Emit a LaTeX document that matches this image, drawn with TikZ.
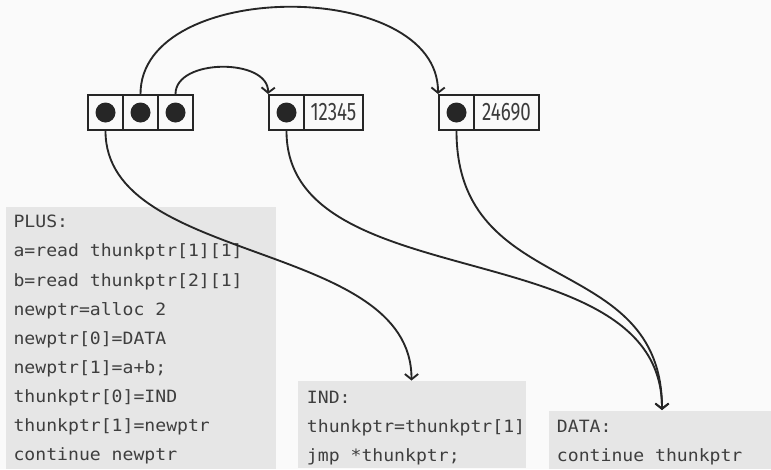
\documentclass[tikz,border=0pt]{standalone}
\usepackage{fontspec}
\usetikzlibrary{arrows.meta}
\newfontfamily\codefont[FakeStretch=1.07]{DejaVu Sans Mono}
\newfontfamily\numfont[FakeStretch=0.74]{Fira Sans}
\definecolor{bg}{HTML}{FAFAFA}
\definecolor{boxgray}{HTML}{E6E6E6}
\definecolor{ink}{HTML}{262626}
\definecolor{codeink}{HTML}{3E3E3E}
\begin{document}
\begin{tikzpicture}[x=0.75pt,y=-0.75pt,
  cell/.style={draw=ink, line width=1.5pt, minimum height=26.25pt, minimum width=26.25pt, inner sep=0pt},
  numcell/.style={cell, font=\numfont\fontsize{19}{22}\selectfont, text=ink!90},
  dot/.style={fill=ink},
  codebox/.style={fill=boxgray, anchor=north west, inner sep=0pt, outer sep=0pt},
  code/.style={anchor=base west, inner sep=0pt, font=\codefont\fontsize{12.7}{15}\selectfont, text=codeink},
  conn/.style={draw=ink, line width=1.4pt, -{Straight Barb[length=4pt,width=10pt,line width=1.4pt]}}]
\fill[bg] (0,0) rectangle (771,469);
\useasboundingbox (0,0) rectangle (771,469);
% code boxes
\node[codebox, minimum width=202.5pt, minimum height=196.5pt] (plus) at (5.7,207.3) {};
\node[codebox, minimum width=171pt, minimum height=65pt] (ind) at (298.3,381.3) {};
\node[codebox, minimum width=167pt, minimum height=44pt] (data) at (548.5,410.7) {};
% code text
\foreach \t [count=\i from 0] in {{PLUS:},{a=read thunkptr[1][1]},{b=read thunkptr[2][1]},{newptr=alloc 2},{newptr[0]=DATA},{newptr[1]=a+b;},{thunkptr[0]=IND},{thunkptr[1]=newptr},{continue newptr}}
  \node[code] (p\i) at (13.3,227.7+29.15*\i) {\t};
\node[code] (i0) at (306.7,403.3) {IND:};
\node[code] (i1) at (306.7,432.5) {thunkptr=thunkptr[1]};
\node[code] (i2) at (306.7,461.5) {jmp *thunkptr;};
\node[code] (d0) at (556.7,432.5) {DATA:};
\node[code] (d1) at (556.7,461.5) {continue thunkptr};
% memory cells
\node[cell] (a1) at (105.5,112.5) {};
\node[cell] (a2) at (140.5,112.5) {};
\node[cell] (a3) at (175.5,112.5) {};
\node[cell] (b1) at (286.5,112.5) {};
\node[numcell, minimum width=44.25pt] (b2) at (333.5,112.5) {12345};
\node[cell] (c1) at (456.5,112.5) {};
\node[numcell, minimum width=48.75pt] (c2) at (506.5,112.5) {24690};
\foreach \n in {a1,a2,a3,b1,c1}
  \fill[dot] (\n.center) circle[radius=7.5pt];
% connectors
\coordinate (indin) at (411.5,380.5);
\coordinate (datain) at (662,410);
\draw[conn] (a3.north) .. controls (175.5,58) and (269,58) .. (b1.north west);
\draw[conn] (a2.north) .. controls (140.5,-22) and (439,-22) .. (c1.north west);
\draw[conn] (a1.south) .. controls (105.5,265) and (411.5,240) .. (indin);
\draw[conn] (b1.south) .. controls (286.5,300) and (662,230) .. (datain);
\draw[conn] (c1.south) .. controls (456.5,300) and (662,250) .. (datain);
\end{tikzpicture}
\end{document}
